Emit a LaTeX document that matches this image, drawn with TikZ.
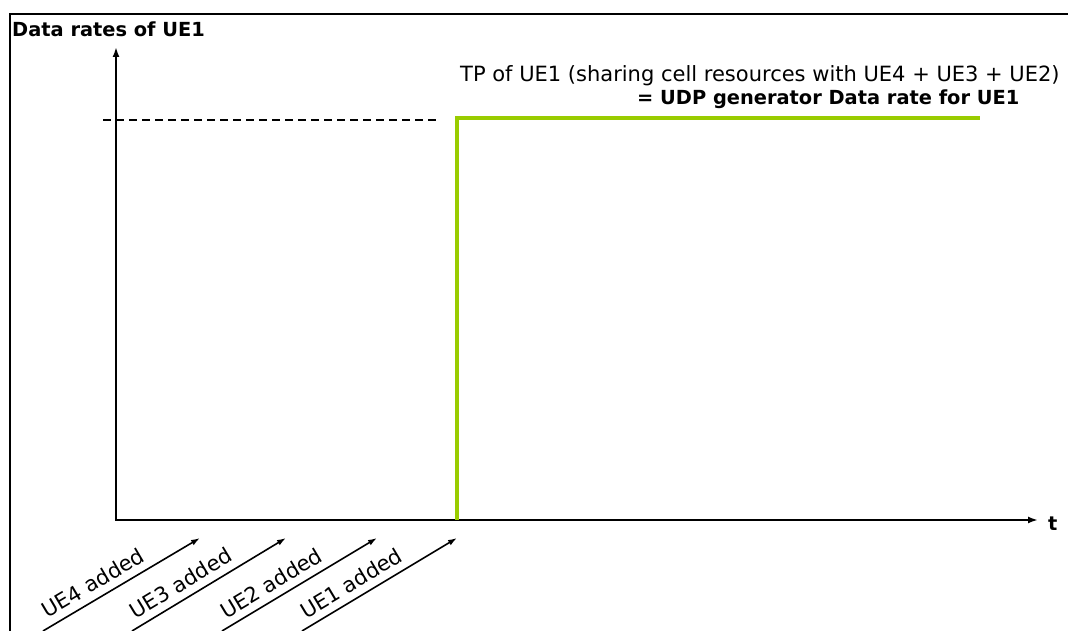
\documentclass[tikz,border=0pt]{standalone}
\usepackage{fontspec}
\setmainfont{DejaVu Sans}
\usetikzlibrary{arrows.meta,positioning}
\definecolor{udpgreen}{RGB}{153,204,0}
\newcommand{\regtext}{\fontsize{21}{25}\selectfont}
\newcommand{\boldtext}{\fontsize{19.4}{23}\selectfont\bfseries}

\begin{document}
\begin{tikzpicture}[x=1pt, y=1pt,
    axis/.style={line width=2.2pt, {Latex[length=10pt,width=7pt]}-{Latex[length=10pt,width=7pt]}},
    addarrow/.style={line width=1.6pt, -{Latex[length=9pt,width=6pt]}},
    addlabel/.style={sloped, above=6pt, pos=0.37, inner sep=1pt, font=\regtext},
    plain/.style={anchor=base west, inner sep=0pt}]
    \useasboundingbox (0,0) rectangle (1068,631);
    \draw[line width=2.2pt] (10,0) -- (10,617) -- (1068,617);

    \coordinate (O)    at (116,111);
    \coordinate (ytop) at (116,584);
    \coordinate (xend) at (1038,111);

    \node[plain, font=\boldtext] at (12,594) (title) {Data rates of UE1};
    \node[right=9pt of xend, yshift=-4pt, inner sep=1pt, font=\boldtext] (t) {t};
    \draw[axis] (ytop) -- (O) -- (xend);

    \coordinate (d0) at (103,511);
    \coordinate (d1) at (440,511);
    \draw[line width=1.6pt, dash pattern=on 8pt off 5pt] (d0) -- (d1);

    \coordinate (g0) at (457,111);
    \coordinate (g1) at (457,512.5);
    \coordinate (g2) at (980,512.5);
    \draw[udpgreen, line width=4pt] (g0) -- (g1) -- (g2);

    \node[plain, font=\regtext] at (460,549.5) (tp) {TP of UE1 (sharing cell resources with UE4 + UE3 + UE2)};
    \node[plain, font=\boldtext] at (637,526) (udp) {= UDP generator Data rate for UE1};

    \coordinate (s4) at (43,0);
    \coordinate (e4) at (200,93);
    \coordinate (s3) at (132,0);
    \coordinate (e3) at (286,93);
    \coordinate (s2) at (222,0);
    \coordinate (e2) at (377,93);
    \coordinate (s1) at (302,0);
    \coordinate (e1) at (457,93);

    \draw[addarrow] (s4) -- node[addlabel] (l4) {UE4 added} (e4);
    \draw[addarrow] (s3) -- node[addlabel] (l3) {UE3 added} (e3);
    \draw[addarrow] (s2) -- node[addlabel] (l2) {UE2 added} (e2);
    \draw[addarrow] (s1) -- node[addlabel] (l1) {UE1 added} (e1);
\end{tikzpicture}
\end{document}
